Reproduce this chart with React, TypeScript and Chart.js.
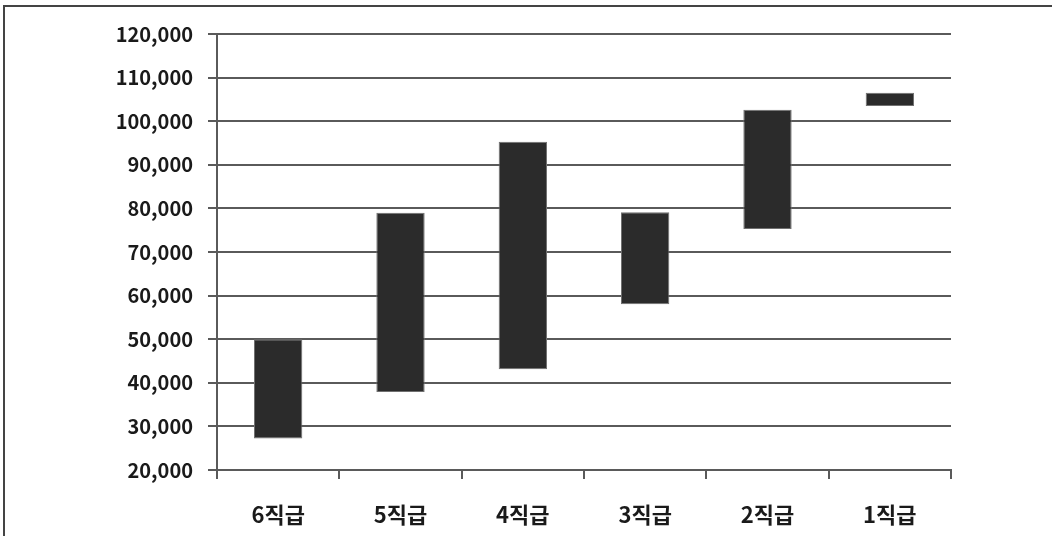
import React, { useEffect, useRef } from "react";
import { Chart, registerables } from "chart.js";

Chart.register(...registerables);

const categories = ["6직급", "5직급", "4직급", "3직급", "2직급", "1직급"];
const lowValues = [27200, 37900, 43100, 58000, 75300, 103500];
const highValues = [50000, 79000, 95300, 79100, 102600, 106500];
const yTicks = [20000, 30000, 40000, 50000, 60000, 70000, 80000, 90000, 100000, 110000, 120000];

const FONT = "'Noto Sans CJK KR', 'Noto Sans', sans-serif";

export default function App() {
  const ref = useRef<HTMLCanvasElement | null>(null);

  useEffect(() => {
    if (!ref.current) return;
    const chart = new Chart(ref.current, {
      type: "bar",
      data: {
        labels: categories,
        datasets: [
          {
            label: "range",
            data: categories.map((_, i) => [lowValues[i], highValues[i]] as [number, number]),
            backgroundColor: "#2b2b2b",
            borderColor: "#707070",
            borderWidth: 1,
            borderSkipped: false,
            categoryPercentage: 1,
            barPercentage: 0.395,
          },
        ],
      },
      options: {
        animation: false,
        responsive: false,
        maintainAspectRatio: false,
        layout: { padding: { left: 0, right: 101, top: 34, bottom: 0 } },
        plugins: { legend: { display: false }, tooltip: { enabled: false } },
        scales: {
          x: {
            type: "category",
            offset: true,
            grid: {
              offset: true,
              drawOnChartArea: false,
              drawTicks: true,
              tickLength: 9,
              color: "#5a5a5a",
              lineWidth: 2,
            },
            border: { display: true, color: "#5a5a5a", width: 2 },
            ticks: {
              padding: 22,
              color: "#1a1a1a",
              font: { family: FONT, size: 22, weight: "bold" },
              maxRotation: 0,
            },
            afterFit: (s: any) => {
              s.height = 66;
            },
          },
          y: {
            min: 20000,
            max: 120000,
            afterBuildTicks: (s: any) => {
              s.ticks = yTicks.map((v) => ({ value: v }));
            },
            grid: {
              drawOnChartArea: true,
              drawTicks: true,
              tickLength: 9,
              color: "#5a5a5a",
              lineWidth: 2,
            },
            border: { display: true, color: "#5a5a5a", width: 2 },
            ticks: {
              padding: 15,
              color: "#1a1a1a",
              font: { family: FONT, size: 20, weight: "bold" },
              callback: (v: any) => Number(v).toLocaleString("en-US"),
            },
            afterFit: (s: any) => {
              s.width = 217;
            },
          },
        },
      },
    });
    return () => chart.destroy();
  }, []);

  return (
    <div
      style={{
        position: "fixed",
        left: 0,
        top: 0,
        width: 1052,
        height: 536,
        overflow: "hidden",
        background: "#ffffff",
      }}
    >
      <div
        style={{
          position: "absolute",
          left: 3,
          top: 5,
          width: 1200,
          height: 700,
          border: "2px solid #444444",
          boxSizing: "border-box",
        }}
      />
      <canvas
        ref={ref}
        width={1052}
        height={536}
        style={{ position: "absolute", left: 0, top: 0, width: 1052, height: 536 }}
      />
    </div>
  );
}
